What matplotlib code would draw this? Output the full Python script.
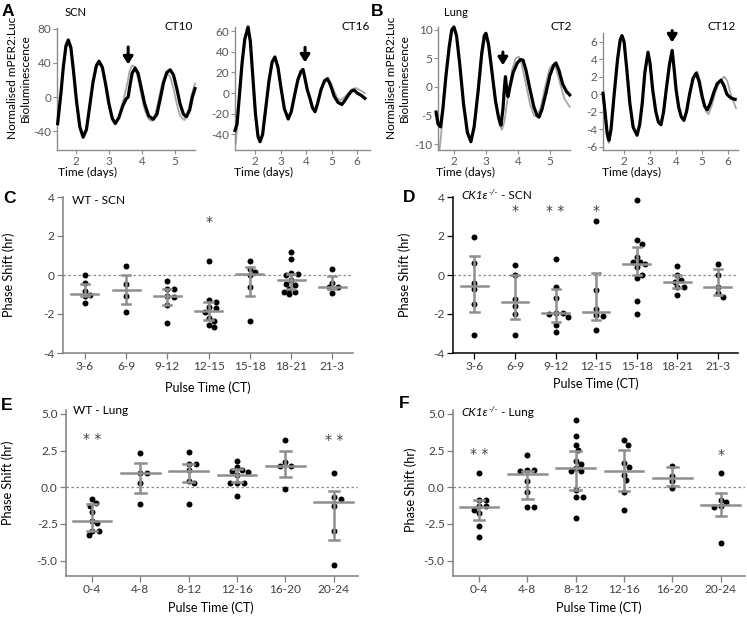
import matplotlib
matplotlib.use('Agg')
import matplotlib.pyplot as plt
import numpy as np

plt.rcParams['font.family'] = ['Lato', 'DejaVu Sans']
plt.rcParams['axes.unicode_minus'] = False

# ---------------- DATA ----------------
# Panel A (SCN) traces
a1_t = [1.45, 1.55, 1.62, 1.70, 1.77, 1.85, 1.93, 2.02, 2.12, 2.22, 2.32, 2.42, 2.52, 2.62, 2.70, 2.80, 2.90, 3.00,
        3.10, 3.19, 3.30, 3.42, 3.52, 3.58, 3.62, 3.70, 3.79, 3.88, 3.98, 4.08, 4.20, 4.34, 4.45, 4.55, 4.65, 4.75,
        4.85, 4.95, 5.05, 5.15, 5.25, 5.34, 5.44, 5.52, 5.60]
a1_black = [-31, 5, 35, 60, 67, 58, 30, -5, -35, -47, -38, -10, 18, 37, 42, 35, 15, -8,
            -25, -31, -24, -10, -2, 0, 10, 28, 34, 28, 10, -8, -22, -26, -20, -2, 17, 29,
            32, 26, 10, -8, -20, -23, -15, 0, 10]
a1g_t = [1.45, 1.55, 1.62, 1.70, 1.77, 1.85, 1.93, 2.02, 2.12, 2.22, 2.32, 2.42, 2.52, 2.62, 2.70, 2.80, 2.90, 3.00,
         3.10, 3.19, 3.30, 3.40, 3.47, 3.55, 3.62, 3.70, 3.78, 3.88, 3.98, 4.08, 4.20, 4.30, 4.40, 4.50, 4.60, 4.70,
         4.76, 4.85, 4.95, 5.05, 5.15, 5.28, 5.40, 5.50, 5.60]
a1_grey = [-33, 3, 33, 58, 64, 56, 28, -6, -36, -45, -37, -11, 17, 35, 40, 34, 14, -9,
           -26, -32, -24, -8, 2, 15, 30, 37, 36, 22, 2, -15, -26, -28, -20, -3, 15, 25,
           28, 24, 10, -8, -22, -27, -15, 3, 16]

a2_t = [1.22, 1.30, 1.40, 1.50, 1.60, 1.73, 1.82, 1.92, 2.02, 2.12, 2.20, 2.30, 2.42, 2.55, 2.67, 2.78, 2.90, 3.02,
        3.15, 3.30, 3.42, 3.55, 3.68, 3.80, 3.88, 3.95, 4.05, 4.15, 4.25, 4.35, 4.45, 4.58, 4.72, 4.84, 4.95, 5.10,
        5.25, 5.40, 5.52, 5.65, 5.78, 5.88, 6.00, 6.15, 6.30]
a2_black = [-36, -30, 0, 30, 52, 64, 50, 15, -20, -42, -47, -40, -15, 12, 30, 35, 25, 5,
            -15, -25, -18, -2, 13, 21, 23, 15, 3, -5, -14, -18, -10, 3, 12, 14, 8, -3,
            -9, -11, -7, -2, 2, 3, 0, -2, -5]
a2g_t = [1.25, 1.32, 1.40, 1.50, 1.60, 1.73, 1.82, 1.92, 2.02, 2.12, 2.20, 2.30, 2.42, 2.55, 2.67, 2.78, 2.90, 3.02,
         3.15, 3.30, 3.42, 3.55, 3.68, 3.80, 3.88, 3.95, 4.05, 4.15, 4.25, 4.35, 4.45, 4.58, 4.72, 4.85, 4.95, 5.10,
         5.22, 5.35, 5.50, 5.65, 5.80, 5.95, 6.10, 6.30]
a2_grey = [-48, -28, 0, 30, 52, 63, 49, 14, -21, -42, -46, -39, -15, 12, 29, 34, 25, 5,
           -15, -25, -18, -2, 13, 21, 22, 15, 3, -5, -14, -17, -9, 2, 10, 13, 11, 2,
           -5, -7, -4, 0, 4, 5, 3, 0]

# Panel B (Lung) traces
b1_t = [1.44, 1.50, 1.58, 1.65, 1.75, 1.85, 1.93, 2.00, 2.08, 2.18, 2.30, 2.42, 2.53, 2.63, 2.75, 2.87, 2.95, 3.00,
        3.08, 3.18, 3.30, 3.40, 3.47, 3.53, 3.58, 3.61, 3.65, 3.69, 3.75, 3.85, 3.98, 4.08, 4.16, 4.25, 4.38, 4.50,
        4.60, 4.66, 4.75, 4.88, 5.00, 5.12, 5.19, 5.28, 5.40, 5.52, 5.62]
b1_black = [-4.4, -6.5, -7.0, -4, 2, 7, 10, 10.5, 9, 4, -3, -8, -9.6, -7, -1, 6, 9, 9.4,
            7.5, 3, -2.5, -5.5, -6.7, -4, 0, 1.8, -0.5, -1.7, 0, 2.5, 4.2, 4.8, 4.7, 3, -0.5, -3.5,
            -5, -5.3, -4, -1, 2, 3.8, 4.2, 3, 0.5, -0.8, -1.4]
b1g_t = [1.55, 1.62, 1.72, 1.82, 1.92, 2.00, 2.08, 2.18, 2.30, 2.42, 2.53, 2.63, 2.75, 2.87, 2.97, 3.02, 3.10, 3.20,
         3.32, 3.42, 3.50, 3.58, 3.70, 3.82, 3.93, 4.03, 4.12, 4.25, 4.38, 4.50, 4.60, 4.72, 4.85, 4.98, 5.08, 5.18,
         5.30, 5.45, 5.62]
b1_grey = [-11, -7, 0, 6, 9.8, 10.3, 8.8, 4, -3, -8, -9.6, -7, -1.5, 5, 8.5, 8.8, 7, 2.5,
           -3, -6.5, -7.5, -6, -1, 3, 5, 5.3, 4, 0.5, -3, -5, -5.2, -3.5, 0, 3, 3.9, 3.5,
           1, -2, -3.5]

b2_t = [1.19, 1.25, 1.35, 1.42, 1.50, 1.62, 1.75, 1.85, 1.92, 2.00, 2.10, 2.22, 2.35, 2.50, 2.60, 2.70, 2.80, 2.92,
        3.00, 3.10, 3.22, 3.32, 3.42, 3.52, 3.62, 3.75, 3.85, 3.92, 4.00, 4.10, 4.20, 4.30, 4.40, 4.52, 4.65, 4.77,
        4.88, 5.00, 5.10, 5.20, 5.32, 5.45, 5.58, 5.73, 5.85, 5.95, 6.05, 6.15, 6.27]
b2_black = [0.1, -1.5, -4.5, -5.3, -4, 0, 4, 6.2, 6.7, 6, 3, -1, -3.8, -4.7, -3.5, -1, 2.5, 4.8,
            3.5, 0.5, -2, -3.2, -3.5, -2, 0.5, 3.5, 5, 3, 0.5, -1.5, -2.6, -3.0, -2, 0, 1.8, 2.4,
            1.5, -0.3, -1.4, -1.8, -1, 0.2, 1.2, 1.6, 0.9, 0, -0.3, -0.5, -0.6]
b2g_t = [1.20, 1.27, 1.35, 1.42, 1.50, 1.62, 1.75, 1.85, 1.92, 2.00, 2.10, 2.22, 2.35, 2.50, 2.60, 2.70, 2.80, 2.92,
         3.00, 3.10, 3.22, 3.32, 3.42, 3.52, 3.62, 3.75, 3.85, 3.92, 4.00, 4.10, 4.20, 4.30, 4.42, 4.55, 4.70, 4.82,
         4.93, 5.05, 5.15, 5.25, 5.38, 5.52, 5.68, 5.85, 5.97, 6.10, 6.30]
b2_grey = [-0.5, -2.5, -5.0, -5.6, -4.2, -0.2, 3.8, 6.0, 6.5, 5.8, 2.8, -1.2, -4.0, -4.8, -3.6, -1.2, 2.3, 4.6,
           3.4, 0.4, -2.1, -3.3, -3.6, -2.1, 0.4, 3.3, 4.8, 3.0, 0.4, -1.6, -2.7, -3.1, -2, 0.5, 2.2, 2.6,
           1.5, -0.5, -2.0, -2.3, -1.2, 0.3, 1.5, 2.0, 1.5, 0, -1.6]

# Panel C: WT - SCN
c_cats = ['3-6', '6-9', '9-12', '12-15', '15-18', '18-21', '21-3']
c_vals = [[0.0, -0.4, -0.8, -1.0, -1.1, -1.45],
          [0.47, -0.44, -1.06, -1.92],
          [-0.32, -0.72, -0.70, -1.08, -1.14, -1.56, -2.45],
          [0.73, -1.29, -1.36, -1.66, -1.7, -1.9, -2.2, -2.37, -2.54, -2.67],
          [0.72, 0.32, 0.15, 0.0, -0.64, -2.34],
          [1.16, 0.83, 0.1, 0.03, -0.02, -0.27, -0.49, -0.47, -0.7, -0.89, -0.99, -0.89],
          [0.29, -0.39, -0.6, -0.64, -0.91]]
c_mid = [-0.97, -0.79, -1.1, -1.83, 0.07, -0.27, -0.6]
c_lo = [-1.1, -1.5, -1.56, -2.29, -1.06, -0.74, -0.72]
c_hi = [-0.44, 0.0, -0.72, -1.36, 0.4, 0.07, -0.05]
c_stars = {3: ('*', 2.7)}

# Panel D: CK1e-/- - SCN
d_cats = c_cats
d_vals = [[1.95, 0.62, -0.4, -0.72, -1.48, -3.1],
          [0.49, 0.0, -1.24, -1.61, -1.98, -3.06],
          [0.82, -0.6, -1.19, -1.95, -1.95, -2.0, -2.15, -2.54, -2.91],
          [2.78, -0.77, -1.75, -2.05, -2.08, -2.84],
          [3.85, 1.8, 1.6, 0.9, 0.65, 0.68, 0.55, 0.4, -0.13, 0.0, -1.31, -2.0],
          [0.45, 0.0, -0.24, -0.35, -0.64, -0.64, -1.03],
          [0.57, 0.0, -0.6, -0.94, -1.14]]
d_mid = [-0.55, -1.41, -1.95, -1.92, 0.57, -0.37, -0.6]
d_lo = [-1.9, -2.25, -2.4, -2.29, 0.0, -0.69, -1.0]
d_hi = [0.95, 0.0, -0.74, 0.1, 1.42, 0.0, 0.29]
d_stars = {1: ('*', 3.3), 2: ('* *', 3.3), 3: ('*', 3.3)}

# Panel E: WT - Lung
e_cats = ['0-4', '4-8', '8-12', '12-16', '16-20', '20-24']
e_vals = [[-0.8, -1.1, -1.25, -1.7, -2.27, -2.45, -2.95, -3.0, -3.25],
          [2.32, 0.98, 0.98, 0.27, -1.14],
          [2.39, 1.59, 1.59, 1.18, 0.45, 0.3, -1.14],
          [1.77, 1.36, 1.2, 1.09, 1.02, 0.86, 0.3, 0.3, 0.3, -0.59],
          [3.25, 1.7, 1.48, 1.43, -0.11],
          [0.98, -0.68, -0.8, -1.3, -3.0, -5.27]]
e_mid = [-2.32, 0.95, 1.14, 0.86, 1.48, -1.02]
e_lo = [-3.0, -0.41, 0.34, 0.34, 0.68, -3.57]
e_hi = [-1.14, 1.64, 1.6, 1.25, 2.5, -0.27]
e_stars = {0: ('* *', 3.3), 5: ('* *', 3.2)}

# Panel F: CK1e-/- - Lung
f_cats = e_cats
f_vals = [[0.95, -0.84, -0.84, -1.25, -1.3, -1.52, -1.77, -2.61, -3.41],
          [2.2, 1.18, 1.18, 1.1, 0.45, -0.34, -1.32, -1.32],
          [4.59, 3.48, 2.91, 2.55, 1.77, 1.59, 1.3, 1.14, 1.14, -0.18, -0.68, -0.68, -2.11],
          [3.23, 2.91, 1.64, 1.41, 0.86, 0.5, -0.34, -1.52],
          [1.48, 0.8, 0.41, -0.05],
          [0.95, -0.84, -1.02, -1.25, -1.32, -3.82]]
f_mid = [-1.36, 0.91, 1.3, 1.14, 0.64, -1.18]
f_lo = [-2.23, -0.8, -0.16, -0.23, 0.11, -1.93]
f_hi = [-0.84, 1.14, 2.5, 2.57, 1.36, -0.41]
f_stars = {0: ('* *', 2.3), 5: ('*', 2.2)}

# ---------------- FIGURE ----------------
W, H = 747, 617
fig = plt.figure(figsize=(W / 100, H / 100), dpi=100)
renderer = fig.canvas.get_renderer()

SPINE = '#8c8c8c'
TICKC = '#595959'
BARC = '#8f8f8f'


def add_ax(l, t, r, b):
    return fig.add_axes([l / W, 1 - b / H, (r - l) / W, (b - t) / H])


def ftext(x, y, s, **kw):
    kw.setdefault('ha', 'center')
    kw.setdefault('va', 'center')
    return fig.text(x / W, 1 - y / H, s, **kw)


def style_top(ax, xlim, ylim, yticks):
    ax.set_xlim(*xlim)
    ax.set_ylim(*ylim)
    ax.set_yticks(yticks)
    ax.set_yticklabels([str(v) for v in yticks])
    ax.set_xticks([x for x in [2, 3, 4, 5, 6] if xlim[0] <= x <= xlim[1]])
    for s in ['top', 'right']:
        ax.spines[s].set_visible(False)
    for s in ['left', 'bottom']:
        ax.spines[s].set_color(SPINE)
        ax.spines[s].set_linewidth(1.0)
    ax.tick_params(axis='both', direction='out', length=3, width=0.8, color=SPINE,
                   labelcolor=TICKC, labelsize=8.5, pad=1.0)


def trace_panel(box, xlim, ylim, yticks, tb, vb, tg, vg, arrow):
    ax = add_ax(*box)
    ax.plot(tg, vg, color='#a6a6a6', lw=1.3, zorder=2, clip_on=False)
    ax.plot(tb, vb, color='black', lw=2.3, zorder=3, clip_on=False, solid_joinstyle='round')
    style_top(ax, xlim, ylim, yticks)
    ax.annotate('', xy=(arrow[0], arrow[2]), xytext=(arrow[0], arrow[1]),
                arrowprops=dict(arrowstyle='-|>,head_width=0.28,head_length=0.45', lw=2.2, color='black'),
                annotation_clip=False, zorder=5)
    return ax


trace_panel((57, 28, 195, 150), (1.43, 5.6), (-62, 81), [-40, 0, 40, 80], a1_t, a1_black, a1g_t, a1_grey,
            (3.58, 62, 35))
trace_panel((235, 27, 370, 150), (1.22, 6.5), (-55, 64), [-40, -20, 0, 20, 40, 60], a2_t, a2_black, a2g_t, a2_grey,
            (3.96, 47, 27))
trace_panel((438, 27, 570, 150), (1.5, 5.63), (-11.05, 10.5), [-10, -5, 0, 5, 10], b1_t, b1_black, b1g_t, b1_grey,
            (3.53, 6.6, 3.3))
trace_panel((603, 33, 738, 150), (1.19, 6.38), (-6.4, 7.0), [-6, -4, -2, 0, 2, 4, 6], b2_t, b2_black, b2g_t, b2_grey,
            (3.85, 7.6, 5.6))

# top panel texts
ftext(8, 11, 'A', fontsize=12.5, fontweight='bold', family='Liberation Sans')
ftext(377, 11, 'B', fontsize=12.5, fontweight='bold', family='Liberation Sans')
ftext(76, 12, 'SCN', fontsize=8)
ftext(456, 12, 'Lung', fontsize=8)
ftext(179, 27, 'CT10', fontsize=8.5)
ftext(356, 26, 'CT16', fontsize=8.5)
ftext(561, 27, 'CT2', fontsize=8.5)
ftext(722, 27, 'CT12', fontsize=8.5)
for x in (19, 398):
    ftext(x, 78, 'Normalised mPER2:Luc\nBioluminescence', fontsize=8.6, rotation=90, linespacing=1.25)
for x in (87, 263, 466, 631):
    ftext(x, 172, 'Time (days)', fontsize=8.6)


# ---------------- scatter panels ----------------
def swarm_offsets(vals, ax, diam_px):
    pos = ax.get_position()
    xl = ax.get_xlim()
    yl = ax.get_ylim()
    xpu = pos.width * W / (xl[1] - xl[0])
    ypu = pos.height * H / (yl[1] - yl[0])
    placed = []
    offs = []
    step = diam_px * 0.3
    cands = [0]
    for k in range(1, 30):
        cands += [k * step, -k * step]
    for v in vals:
        yp = v * ypu
        for c in cands:
            if all((c - px) ** 2 + (yp - py) ** 2 >= (diam_px * 0.95) ** 2 for px, py in placed):
                placed.append((c, yp))
                offs.append(c / xpu)
                break
    return offs


def scatter_panel(box, cats, vals, mid, lo, hi, ylim, yticks, ylabels, spine_color, mw, cw, stars):
    ax = add_ax(*box)
    n = len(cats)
    ax.set_xlim(-0.53 if n == 7 else -0.54, n - 0.5)
    ax.set_ylim(*ylim)
    ax.axhline(0, color='#8c8c8c', lw=0.9, ls=(0, (2, 2)), zorder=1)
    for i, vs in enumerate(vals):
        offs = swarm_offsets(vs, ax, 5.8)
        ax.plot([i + o for o in offs], vs, 'o', color='black', ms=4.3, mec='none', zorder=2, clip_on=False)
        ax.plot([i, i], [lo[i], hi[i]], color=BARC, lw=1.8, zorder=3, solid_capstyle='butt')
        ax.plot([i - cw, i + cw], [lo[i], lo[i]], color=BARC, lw=1.8, zorder=3)
        ax.plot([i - cw, i + cw], [hi[i], hi[i]], color=BARC, lw=1.8, zorder=3)
        ax.plot([i - mw, i + mw], [mid[i], mid[i]], color=BARC, lw=1.8, zorder=3)
    for i, (s, y) in stars.items():
        ax.text(i, y, s, ha='center', va='center', fontsize=10, color='#404040', family='DejaVu Sans')
    ax.set_xticks(range(n))
    ax.set_xticklabels(cats)
    ax.set_yticks(yticks)
    ax.set_yticklabels(ylabels)
    for s in ['top', 'right']:
        ax.spines[s].set_visible(False)
    for s in ['left', 'bottom']:
        ax.spines[s].set_color(spine_color)
        ax.spines[s].set_linewidth(1.1)
    ax.tick_params(axis='both', direction='out', length=4, width=0.9, color=spine_color,
                   labelcolor='#404040', labelsize=8.6, pad=2)
    return ax


ylc = [-4, -2, 0, 2, 4]
scatter_panel((63, 197, 353, 353), c_cats, c_vals, c_mid, c_lo, c_hi, (-4, 4), ylc, [str(v) for v in ylc],
              '#7f7f7f', 0.33, 0.1, c_stars)
scatter_panel((453, 197, 738, 353), d_cats, d_vals, d_mid, d_lo, d_hi, (-4, 4), ylc, [str(v) for v in ylc],
              'black', 0.33, 0.1, d_stars)
yle = [-5.0, -2.5, 0.0, 2.5, 5.0]
scatter_panel((66, 410, 358, 576), e_cats, e_vals, e_mid, e_lo, e_hi, (-6.05, 5.27), yle, ['%.1f' % v for v in yle],
              '#7f7f7f', 0.4, 0.11, e_stars)
scatter_panel((453, 410, 745, 576), f_cats, f_vals, f_mid, f_lo, f_hi, (-6.05, 5.27), yle, ['%.1f' % v for v in yle],
              '#7f7f7f', 0.4, 0.11, f_stars)


def ko_title(x, y_base, rest):
    """Italic CK1ε with small superscript -/- followed by regular text."""
    t1 = ftext(x, y_base, 'CK1ε', ha='left', va='baseline', fontsize=8.6, style='italic',
               family=['Lato', 'DejaVu Sans'])
    w1 = t1.get_window_extent(renderer).width
    t2 = ftext(x + w1 + 0.5, y_base - 4, '-/-', ha='left', va='baseline', fontsize=6, style='italic')
    w2 = t2.get_window_extent(renderer).width
    ftext(x + w1 + w2 + 1, y_base, rest, ha='left', va='baseline', fontsize=8.6)


# lower texts
for (x, y, s) in [(9, 198, 'C'), (409, 197, 'D'), (7, 405, 'E'), (404, 403, 'F')]:
    ftext(x, y, s, fontsize=12.5, fontweight='bold', family='Liberation Sans')
ftext(72, 200, 'WT - SCN', fontsize=8.6, ha='left')
ko_title(461, 199, ' - SCN')
ftext(73, 411, 'WT - Lung', fontsize=8.6, ha='left')
ko_title(461, 416, ' - Lung')
for (x, y) in [(9, 275), (405, 275), (8, 483), (411, 490)]:
    ftext(x, y, 'Phase Shift (hr)', fontsize=9.2, rotation=90)
for (x, y) in [(208, 388), (596, 384), (211, 608), (599, 608)]:
    ftext(x, y, 'Pulse Time (CT)', fontsize=9)

fig.savefig('out.png', dpi=100)
